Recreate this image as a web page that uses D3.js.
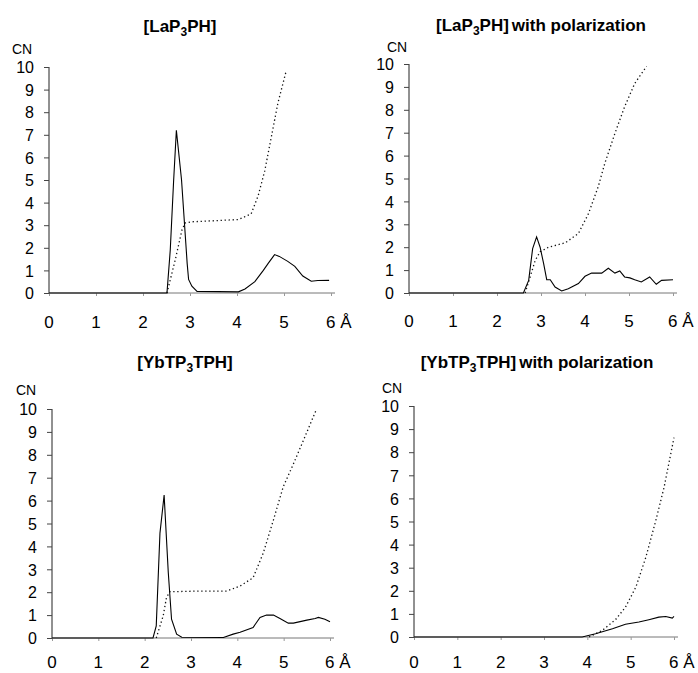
<!DOCTYPE html>
<html>
<head>
<meta charset="utf-8">
<script src="https://cdn.jsdelivr.net/npm/d3@7"></script>
<style>
  body { margin: 0; background: #fff; }
  text { font-family: "Liberation Sans", Arial, Helvetica, sans-serif; fill: #000; }
</style>
</head>
<body>
<div id="plot"></div>
<script>
// tick values
const xTicks = [0, 1, 2, 3, 4, 5, 6];
const yTicks = [0, 1, 2, 3, 4, 5, 6, 7, 8, 9, 10];

// [LaP3PH] - solid = g(r), dotted = running CN
const laR = [0, 2.51, 2.58, 2.65, 2.71, 2.82, 2.94, 2.97, 3.04, 3.15, 4.03, 4.17, 4.38, 4.56, 4.66, 4.8, 4.9, 5.08, 5.23, 5.4, 5.58, 5.72, 5.96];
const laG = [0, 0, 1.9, 4.9, 7.2, 5.0, 1.3, 0.6, 0.3, 0.07, 0.05, 0.18, 0.5, 1.0, 1.3, 1.7, 1.62, 1.4, 1.18, 0.75, 0.52, 0.55, 0.56];
const laCnR = [2.51, 2.69, 2.83, 2.9, 3.04, 4.03, 4.3, 4.45, 4.59, 4.73, 4.87, 5.05];
const laCn = [0, 1.5, 2.8, 3.1, 3.15, 3.25, 3.5, 4.3, 5.4, 6.9, 8.4, 9.85];

// [LaP3PH] with polarization
const laPolR = [0, 2.6, 2.72, 2.81, 2.9, 2.98, 3.06, 3.13, 3.21, 3.32, 3.47, 3.62, 3.85, 4.0, 4.15, 4.38, 4.53, 4.68, 4.79, 4.9, 5.02, 5.13, 5.28, 5.47, 5.62, 5.74, 6.0];
const laPolG = [0, 0, 0.55, 1.94, 2.45, 2.0, 1.28, 0.58, 0.58, 0.26, 0.09, 0.19, 0.41, 0.73, 0.87, 0.87, 1.08, 0.87, 0.96, 0.7, 0.66, 0.58, 0.48, 0.7, 0.38, 0.55, 0.58];
const laPolCnR = [2.64, 2.87, 2.98, 3.17, 3.55, 3.85, 4.08, 4.3, 4.45, 4.68, 4.9, 5.13, 5.4];
const laPolCn = [0, 1.43, 1.8, 2.0, 2.19, 2.6, 3.47, 4.64, 5.66, 6.97, 8.13, 9.15, 9.9];

// [YbTP3TPH]
const ybR = [0, 2.18, 2.25, 2.33, 2.42, 2.51, 2.58, 2.69, 2.8, 3.7, 3.91, 4.06, 4.34, 4.49, 4.63, 4.78, 4.92, 5.1, 5.21, 5.5, 5.68, 5.75, 5.89, 6.0];
const ybG = [0, 0, 0.53, 4.58, 6.24, 2.85, 0.82, 0.17, 0.03, 0.02, 0.17, 0.25, 0.46, 0.9, 1.0, 1.0, 0.85, 0.65, 0.65, 0.78, 0.85, 0.9, 0.82, 0.71];
const ybCnR = [2.25, 2.4, 2.47, 2.54, 3.19, 3.77, 4.06, 4.34, 4.56, 4.78, 4.99, 5.21, 5.42, 5.71];
const ybCn = [0, 0.97, 1.76, 2.02, 2.05, 2.05, 2.27, 2.63, 3.71, 5.16, 6.6, 7.6, 8.6, 10.0];

// [YbTP3TPH] with polarization
const ybPolR = [0, 3.88, 4.19, 4.58, 4.88, 5.19, 5.42, 5.65, 5.81, 5.96, 6.0];
const ybPolG = [0, 0, 0.14, 0.36, 0.55, 0.65, 0.75, 0.86, 0.89, 0.82, 0.89];
const ybPolCnR = [4.04, 4.35, 4.65, 4.88, 5.12, 5.35, 5.58, 5.77, 6.0];
const ybPolCn = [0, 0.29, 0.75, 1.29, 2.16, 3.45, 5.04, 6.47, 8.63];

const width = 698, height = 673;

// plot frames in pixels (layout only)
const panels = [
  { base: "[LaP", sub: "3", rest: "PH]", tail: "", tx: 180, ty: 32,
    x0: 49, x1: 331, y0: 293, y1: 67, cnx: 22, cny: 54, lab: 328,
    r: laR, g: laG, cr: laCnR, cn: laCn },
  { base: "[LaP", sub: "3", rest: "PH]", tail: "with polarization", tx: 541, ty: 31,
    x0: 409, x1: 673, y0: 293, y1: 64, cnx: 397, cny: 52, lab: 327,
    r: laPolR, g: laPolG, cr: laPolCnR, cn: laPolCn },
  { base: "[YbTP", sub: "3", rest: "TPH]", tail: "", tx: 185, ty: 368,
    x0: 52, x1: 330, y0: 638, y1: 409, cnx: 26, cny: 395, lab: 668,
    r: ybR, g: ybG, cr: ybCnR, cn: ybCn },
  { base: "[YbTP", sub: "3", rest: "TPH]", tail: "with polarization", tx: 537, ty: 368,
    x0: 414, x1: 674, y0: 637, y1: 406, cnx: 392, cny: 393, lab: 668,
    r: ybPolR, g: ybPolG, cr: ybPolCnR, cn: ybPolCn }
];

const svg = d3.select('#plot')
  .append('svg')
  .attr('width', width)
  .attr('height', height)
  .style('background', '#fff');

panels.forEach(p => {
  const x = d3.scaleLinear().domain([0, 6]).range([p.x0, p.x1]);
  const y = d3.scaleLinear().domain([0, 10]).range([p.y0, p.y1]);
  const g = svg.append('g');

  // title with subscript
  const t = g.append('text')
    .attr('x', p.tx)
    .attr('y', p.ty)
    .attr('text-anchor', 'middle')
    .style('font-size', '17px')
    .style('font-weight', 'bold');
  t.append('tspan').text(p.base);
  t.append('tspan').attr('dy', 4).style('font-size', '12px').text(p.sub);
  t.append('tspan').attr('dy', -4).text(p.rest);
  if (p.tail) t.append('tspan').attr('dx', 3).text(p.tail);

  // y axis
  const ya = g.append('g')
    .attr('transform', `translate(${p.x0},0)`)
    .call(d3.axisLeft(y).tickValues(yTicks).tickSize(5).tickPadding(10).tickFormat(d3.format('d')));
  ya.select('.domain').attr('d', `M0,${p.y0}V${p.y1}`).attr('stroke', '#222');
  ya.selectAll('.tick line').attr('stroke', '#444');
  ya.selectAll('text')
    .style('font-size', '16px')
    .attr('dy', '0.36em');

  // x axis
  const xa = g.append('g')
    .attr('transform', `translate(0,${p.y0})`)
    .call(d3.axisBottom(x).tickValues(xTicks).tickSize(3).tickFormat(d => d));
  xa.select('.domain').attr('d', `M${p.x0},0H${p.x1 + 4}`).attr('stroke', '#777');
  xa.selectAll('.tick line').attr('stroke', '#999');
  xa.selectAll('text').remove();
  g.selectAll('.xlab')
    .data(xTicks)
    .join('text')
    .attr('class', 'xlab')
    .attr('x', d => x(d))
    .attr('y', p.lab)
    .attr('text-anchor', d => d === 6 ? 'start' : 'middle')
    .attr('dx', d => d === 6 ? -5 : 0)
    .style('font-size', '17px')
    .text(d => d === 6 ? '6 Å' : d);

  // CN label
  g.append('text')
    .attr('x', p.cnx)
    .attr('y', p.cny)
    .attr('text-anchor', 'middle')
    .style('font-size', '14px')
    .text('CN');

  const line = d3.line().x(d => x(d[0])).y(d => y(d[1]));

  // running coordination number (dotted)
  g.append('path')
    .datum(d3.zip(p.cr, p.cn))
    .attr('d', line)
    .attr('fill', 'none')
    .attr('stroke', '#111')
    .attr('stroke-width', 1.3)
    .attr('stroke-dasharray', '1.3,2.7');

  // radial distribution (solid)
  g.append('path')
    .datum(d3.zip(p.r, p.g))
    .attr('d', line)
    .attr('fill', 'none')
    .attr('stroke', '#000')
    .attr('stroke-width', 1.1);
});
</script>
</body>
</html>
